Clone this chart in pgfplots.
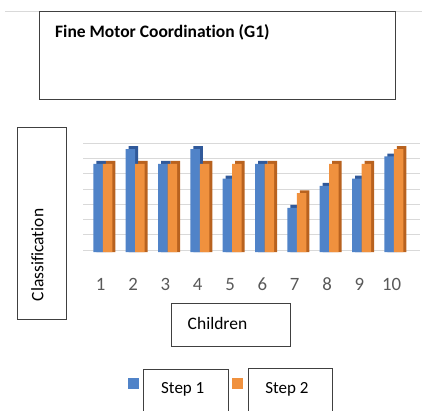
\documentclass[border=0pt]{standalone}
\usepackage{fontspec}
\setmainfont{Carlito}[Ligatures={NoCommon}]
\usepackage{pgfplots}
\pgfplotsset{compat=1.18}
\definecolor{blueF}{HTML}{5083C8}
\definecolor{blueS}{HTML}{30599A}
\definecolor{orF}{HTML}{F0913E}
\definecolor{orS}{HTML}{B8621F}
\definecolor{gridc}{HTML}{D9D9D9}
\definecolor{boxc}{HTML}{404040}
\definecolor{tickc}{HTML}{595959}
\begin{document}
\begin{tikzpicture}[x=1pt,y=1pt]
\path[use as bounding box] (0,0) rectangle (422,410);
\draw[gridc, line width=1pt] (5,398) -- (422,398);
\begin{axis}[
  at={(83pt,158pt)}, anchor=south west,
  scale only axis, width=337pt, height=109.5pt,
  xmin=0.4525, xmax=10.875, ymin=0, ymax=7.45,
  axis line style={draw=none}, major tick length=0pt,
  ytick={0.136,1.173,2.210,3.246,4.283,5.320,6.356,7.393},
  yticklabels={},
  ymajorgrids, grid style={gridc, line width=0.9pt},
  xtick={1,2,3,4,5,6,7,8,9,10},
  xticklabels={1,2,3,4,5,6,7,8,9,10},
  /pgf/number format/assume math mode=true,
  xticklabel style={font=\fontsize{18.8}{22}\selectfont, text=tickc, anchor=center, yshift=-32.2pt},
  legend style={at={(0.1335,-1.23)}, anchor=west, draw=none, fill=none,
    legend columns=2, font=\fontsize{17}{20}\selectfont, inner sep=0pt,
    nodes={inner sep=0pt},
    /tikz/every odd column/.append style={column sep=22pt},
    /tikz/every even column/.append style={column sep=28pt}},
]
\addplot[ybar, bar width=9.5pt, bar shift=0.4pt, fill=blueS, draw=none, forget plot]
  coordinates {(1,6.2) (2,7.2) (3,6.2) (4,7.2) (5,5.2) (6,6.2) (7,3.2) (8,4.7) (9,5.2) (10,6.7)};
\addplot[ybar, bar width=9.5pt, bar shift=-2.6pt, fill=blueF, draw=none,
  legend image code/.code={\fill[blueF] (0pt,0pt) rectangle (11pt,11pt);}]
  coordinates {(1,6) (2,7) (3,6) (4,7) (5,5) (6,6) (7,3) (8,4.5) (9,5) (10,6.5)};
\addlegendentry{Step 1}
\addplot[ybar, bar width=9.5pt, bar shift=9.9pt, fill=orS, draw=none, forget plot]
  coordinates {(1,6.2) (2,6.2) (3,6.2) (4,6.2) (5,6.2) (6,6.2) (7,4.2) (8,6.2) (9,6.2) (10,7.2)};
\addplot[ybar, bar width=9.5pt, bar shift=6.9pt, fill=orF, draw=none,
  legend image code/.code={\fill[orF] (0pt,0pt) rectangle (11pt,11pt);}]
  coordinates {(1,6) (2,6) (3,6) (4,6) (5,6) (6,6) (7,4) (8,6) (9,6) (10,7)};
\addlegendentry{Step 2}
\end{axis}
\draw[boxc, line width=0.9pt] (39,399) rectangle (395,311);
\node[anchor=base west, inner sep=0pt, font=\bfseries\fontsize{17.5}{20}\selectfont] at (55,372.7) {Fine Motor Coordination (G1)};
\draw[boxc, line width=0.9pt] (17,283) rectangle (66,91);
\node[rotate=90, anchor=base, inner sep=0pt, font=\fontsize{17.5}{20}\selectfont] at (43.3,155) {Classification};
\draw[boxc, line width=0.9pt] (171,107) rectangle (290,64);
\node[anchor=base, inner sep=0pt, font=\fontsize{17.5}{20}\selectfont] at (217.5,80.7) {Children};
\draw[boxc, line width=0.9pt] (143,41) rectangle (228,-10);
\draw[boxc, line width=0.9pt] (248,42) rectangle (332,-10);
\end{tikzpicture}
\end{document}
